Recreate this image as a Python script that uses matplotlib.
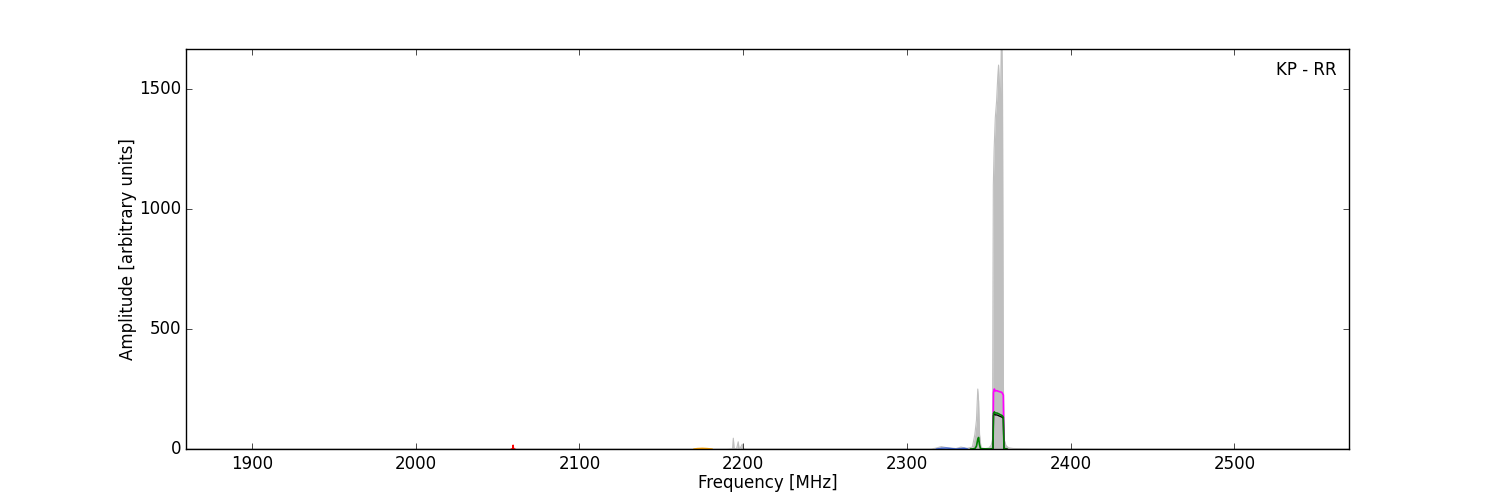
import numpy as np
import matplotlib
matplotlib.use('Agg')
import matplotlib.pyplot as plt

# total power (grey envelope)
freq_tot = [1860, 2150, 2190, 2193.5, 2194, 2194.5, 2196, 2197, 2197.5, 2198, 2199.5, 2200, 2200.5, 2202,
            2315, 2318, 2321, 2324, 2327, 2330, 2333, 2335, 2337, 2340, 2341.5, 2342.5, 2343.3, 2343.8,
            2344.4, 2345.2, 2346, 2348, 2350, 2351.5, 2352.3, 2352.8, 2353.3, 2354, 2354.8, 2355.5, 2356,
            2356.6, 2357.2, 2357.7, 2358.0, 2358.4, 2358.9, 2359.4, 2360.5, 2362, 2365, 2375, 2420, 2570]
amp_tot = [0, 0, 0, 1, 45, 2, 1, 30, 2, 1, 20, 3, 1, 0,
           0, 4, 10, 6, 4, 2, 8, 5, 3, 8, 60, 120, 250, 200,
           60, 10, 3, 2, 4, 15, 40, 1100, 1250, 1380, 1450, 1550, 1600,
           1500, 1480, 1690, 1700, 1520, 300, 40, 15, 5, 2, 1, 0, 0]

# baseline channels
freq_mag = [2351.5, 2352.6, 2352.9, 2353.4, 2354, 2355, 2356, 2357, 2358, 2358.5, 2358.9, 2359.3, 2361]
amp_mag = [0, 2, 235, 250, 242, 243, 240, 238, 236, 230, 225, 2, 0]

freq_grn = [2339, 2341.5, 2342.5, 2343.3, 2343.8, 2344.3, 2345, 2351.5, 2352.6, 2352.9, 2353.4,
            2354, 2355, 2356, 2357, 2358, 2358.6, 2358.9, 2359.3, 2361]
amp_grn = [0, 1, 12, 40, 48, 20, 1, 0, 1, 148, 155, 150, 150, 147, 143, 140, 136, 132, 2, 0]

freq_blk = [2351.5, 2352.6, 2352.9, 2353.4, 2354, 2355, 2356, 2357, 2358, 2358.6, 2358.9, 2359.3, 2361]
amp_blk = [0, 1, 140, 146, 142, 142, 139, 136, 133, 130, 126, 1, 0]

freq_red = [2058.5, 2059.2, 2059.5, 2059.8, 2060.5]
amp_red = [0, 1, 16, 1, 0]

freq_org = [2170, 2172, 2175, 2178, 2181]
amp_org = [0, 2, 3, 2, 0]

freq_blu = [2318, 2321, 2324, 2327, 2330, 2333, 2335, 2337]
amp_blu = [0, 3, 4, 2, 0, 2, 3, 0]

plt.style.use('classic')
fig = plt.figure(figsize=(15, 5), dpi=100, facecolor='white')
fig.subplots_adjust(left=0.1243, right=0.8993, bottom=0.102, top=0.902)
ax = fig.add_subplot(111)

ax.fill_between(freq_tot, 0, amp_tot, color='0.75', lw=0)
ax.plot(freq_tot, amp_tot, color='0.75', lw=0.8)
ax.plot(freq_red, amp_red, color='red')
ax.plot(freq_org, amp_org, color='orange')
ax.plot(freq_blu, amp_blu, color='royalblue')
ax.plot(freq_mag, amp_mag, color='magenta', lw=1.2)
ax.plot(freq_blk, amp_blk, color='black', lw=1.0)
ax.plot(freq_grn, amp_grn, color='green', lw=1.2)

ax.set_xlim(1860, 2570)
ax.set_ylim(0, 1667)
ax.set_xticks([1900, 2000, 2100, 2200, 2300, 2400, 2500])
ax.set_yticks([0, 500, 1000, 1500])
ax.set_xlabel('Frequency [MHz]', labelpad=1)
ax.set_ylabel('Amplitude [arbitrary units]', labelpad=1)
ax.text(0.989, 0.947, 'KP - RR', transform=ax.transAxes, ha='right', va='center', fontsize=12)

fig.savefig('out.png', dpi=100, facecolor='white')
